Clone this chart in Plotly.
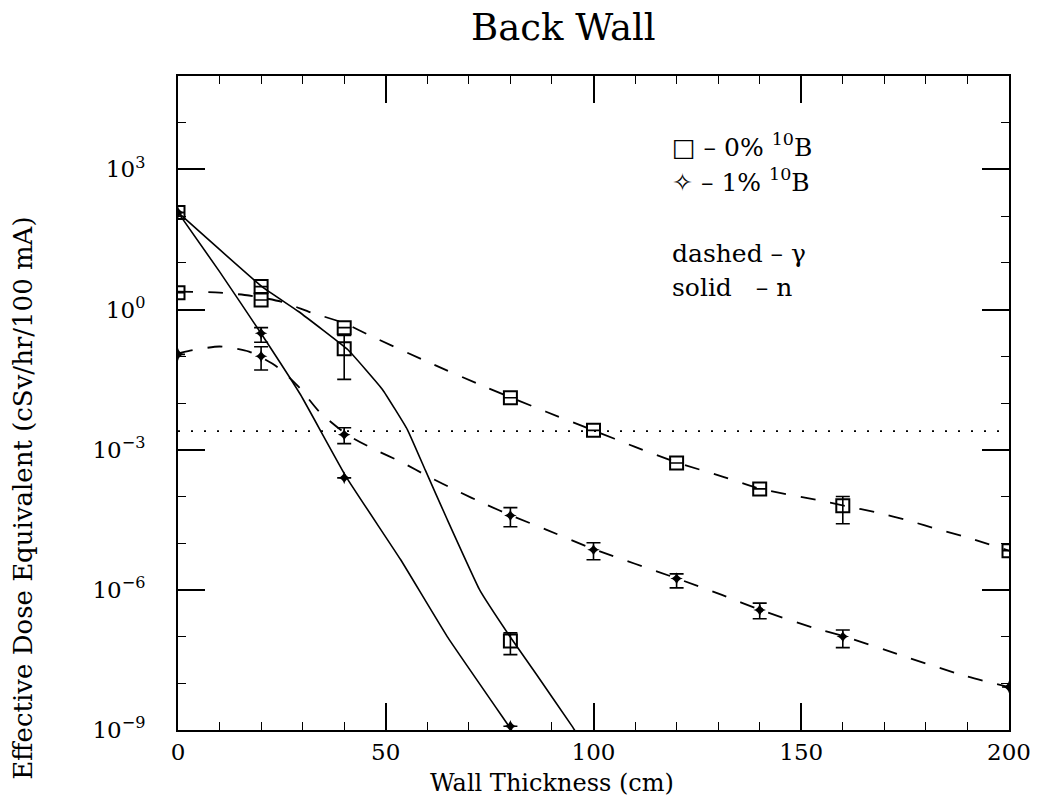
import plotly.graph_objects as go

# ---------------- data ----------------
# measured points: 0% 10B (squares)
sq_n_x = [0, 20, 40, 80]
sq_n_y = [120, 3.1, 0.145, 8.0e-8]
sq_n_up = [120, 3.1, 0.28, 1.2e-7]
sq_n_lo = [120, 3.1, 0.032, 4.1e-8]

sq_g_x = [0, 20, 40, 80, 100, 120, 140, 160, 200]
sq_g_y = [2.3, 1.6, 0.41, 0.013, 2.6e-3, 5.2e-4, 1.45e-4, 6.3e-5, 6.9e-6]
sq_g_up = [2.3, 1.6, 0.41, 0.013, 2.6e-3, 5.2e-4, 1.45e-4, 1.0e-4, 6.9e-6]
sq_g_lo = [2.3, 1.6, 0.41, 0.013, 2.6e-3, 5.2e-4, 1.45e-4, 2.6e-5, 6.9e-6]

# measured points: 1% 10B (stars)
st_n_x = [0, 20, 40, 80]
st_n_y = [120, 0.31, 2.5e-4, 1.2e-9]
st_n_up = [120, 0.41, 2.5e-4, 1.2e-9]
st_n_lo = [120, 0.20, 2.5e-4, 1.2e-9]

st_g_x = [0, 20, 40, 80, 100, 120, 140, 160, 200]
st_g_y = [0.11, 0.10, 2.1e-3, 3.9e-5, 7.2e-6, 1.74e-6, 3.7e-7, 1.0e-7, 8.3e-9]
st_g_up = [0.11, 0.16, 2.95e-3, 5.75e-5, 1.02e-5, 2.2e-6, 5.2e-7, 1.38e-7, 8.3e-9]
st_g_lo = [0.11, 0.051, 1.35e-3, 2.24e-5, 4.4e-6, 1.1e-6, 2.4e-7, 5.8e-8, 8.3e-9]

# fitted curves
c_sq_n_x = [0, 20.2, 29.0, 40.9, 49.2, 55.2, 59.5, 64.8, 72.6, 79.8, 86.2, 95.0, 96.5]
c_sq_n_y = [120, 3.1, 0.91, 0.138, 0.0195, 2.7e-3, 3.7e-4, 3.2e-5, 1.0e-6, 1.03e-7, 1.58e-8,
            1.15e-9, 7e-10]

c_st_n_x = [0, 10, 20.2, 29.5, 40.5, 53.6, 64.8, 79.8, 81.0]
c_st_n_y = [120, 6.5, 0.29, 0.015, 2.6e-4, 4.4e-6, 1.0e-7, 1.15e-9, 8e-10]

c_sq_g_x = [0, 10, 17.1, 24.8, 32.1, 39.8, 46.9, 60.5, 74.3, 88.6, 100.2, 110, 120.2,
            131.4, 140.2, 153.6, 160.5, 168.3, 176, 183.1, 190.2, 200]
c_sq_g_y = [2.43, 2.31, 2.0, 1.48, 0.86, 0.52, 0.26, 0.073, 0.0214, 6.5e-3, 2.55e-3, 1.15e-3,
            5.3e-4, 2.6e-4, 1.45e-4, 8.5e-5, 6.3e-5, 4.5e-5, 3.0e-5, 1.95e-5, 1.3e-5, 6.9e-6]

c_st_g_x = [0, 2.9, 10, 17.1, 23.8, 29, 34, 40.7, 46.9, 54, 60.5, 67.1, 74.3, 80.2, 88.6,
            99.8, 120.2, 130.9, 140.2, 152.9, 160.5, 174.3, 189.3, 200]
c_st_g_y = [0.115, 0.132, 0.162, 0.126, 0.06, 0.0224, 6.5e-3, 2.1e-3, 1.05e-3, 5.3e-4, 2.6e-4,
            1.32e-4, 6.6e-5, 3.9e-5, 1.95e-5, 7.6e-6, 1.74e-6, 7.8e-7, 3.7e-7, 1.55e-7, 1.0e-7,
            3.9e-8, 1.45e-8, 8.3e-9]

limit_x = [0, 200]
limit_y = [2.5e-3, 2.5e-3]

x_ticks = [0, 50, 100, 150, 200]
y_ticks = [1e-9, 1e-6, 1e-3, 1, 1e3]
y_ticktext = ["10<sup>−9</sup>", "10<sup>−6</sup>", "10<sup>−3</sup>", "10<sup>0</sup>", "10<sup>3</sup>"]
y_minor = [10.0 ** k for k in range(-9, 6)]

FONT = "DejaVu Serif"
BLACK = "black"

fig = go.Figure()

# curves
fig.add_trace(go.Scatter(x=c_sq_n_x, y=c_sq_n_y, mode="lines",
                         line=dict(color=BLACK, width=1.6, shape="spline", smoothing=0.3)))
fig.add_trace(go.Scatter(x=c_st_n_x, y=c_st_n_y, mode="lines",
                         line=dict(color=BLACK, width=1.6, shape="spline", smoothing=0.3)))
fig.add_trace(go.Scatter(x=c_sq_g_x, y=c_sq_g_y, mode="lines",
                         line=dict(color=BLACK, width=1.8, dash="15px,15px", shape="spline", smoothing=0.6)))
fig.add_trace(go.Scatter(x=c_st_g_x, y=c_st_g_y, mode="lines",
                         line=dict(color=BLACK, width=1.8, dash="15px,15px", shape="spline", smoothing=0.6)))
fig.add_trace(go.Scatter(x=limit_x, y=limit_y, mode="lines",
                         line=dict(color=BLACK, width=1.6, dash="2px,11px")))


def err(y, up, lo):
    return dict(type="data", symmetric=False,
                array=[u - v for u, v in zip(up, y)],
                arrayminus=[v - l for v, l in zip(y, lo)],
                color=BLACK, thickness=1.6, width=7)


fig.add_trace(go.Scatter(x=sq_n_x, y=sq_n_y, mode="markers",
                         marker=dict(symbol="square-open", size=13, color=BLACK, line=dict(width=2)),
                         error_y=err(sq_n_y, sq_n_up, sq_n_lo)))
fig.add_trace(go.Scatter(x=sq_g_x, y=sq_g_y, mode="markers",
                         marker=dict(symbol="square-open", size=13, color=BLACK, line=dict(width=2)),
                         error_y=err(sq_g_y, sq_g_up, sq_g_lo)))
fig.add_trace(go.Scatter(x=st_n_x, y=st_n_y, mode="markers",
                         marker=dict(symbol="star-diamond", size=9, color=BLACK),
                         error_y=err(st_n_y, st_n_up, st_n_lo)))
fig.add_trace(go.Scatter(x=st_g_x, y=st_g_y, mode="markers",
                         marker=dict(symbol="star-diamond", size=9, color=BLACK),
                         error_y=err(st_g_y, st_g_up, st_g_lo)))

L, R, T, B = 178, 1019, 76, 730
W, H = 1043, 802


def px(xp):
    return (xp - L) / (R - L)


def py(yp):
    return (B - yp) / (B - T)


axis_common = dict(showline=True, linecolor=BLACK, linewidth=2, mirror="allticks",
                   ticks="inside", ticklen=27, tickwidth=1.5, tickcolor=BLACK,
                   showgrid=False, zeroline=False,
                   tickfont=dict(family=FONT, size=23, color=BLACK))

fig.update_xaxes(range=[0, 200], tickmode="array", tickvals=x_ticks,
                 ticklabelstandoff=0,
                 minor=dict(dtick=10, tick0=0, ticks="inside", ticklen=8, tickwidth=1.2,
                            tickcolor=BLACK, showgrid=False),
                 **axis_common)
fig.update_yaxes(type="log", range=[-9, 5], tickmode="array", tickvals=y_ticks,
                 ticktext=y_ticktext, ticklabelstandoff=26,
                 minor=dict(tickmode="array", tickvals=y_minor, ticks="inside", ticklen=8,
                            tickwidth=1.2, tickcolor=BLACK, showgrid=False),
                 **axis_common)

ann = []
ann.append(dict(text="Back Wall", x=px(568), y=py(27), xref="paper", yref="paper",
                xanchor="center", yanchor="middle",
                showarrow=False, font=dict(family=FONT, size=37, color=BLACK)))
ann.append(dict(text="Wall Thickness (cm)", x=px(556), y=py(783), xref="paper", yref="paper",
                xanchor="center", yanchor="middle",
                showarrow=False, font=dict(family=FONT, size=24, color=BLACK)))
ann.append(dict(text="Effective Dose Equivalent (cSv/hr/100 mA)", x=px(21), y=py(498),
                xref="paper", yref="paper", textangle=-90, showarrow=False,
                xanchor="center", yanchor="middle",
                font=dict(family=FONT, size=26, color=BLACK)))
legend_lines = [("□ – 0% <sup>10</sup>B", 145), ("✧ – 1% <sup>10</sup>B", 180),
                ("dashed – γ", 253), ("solid&nbsp;&nbsp;&nbsp;– n", 287)]
for txt, yy in legend_lines:
    ann.append(dict(text=txt, x=px(676), y=py(yy), xref="paper", yref="paper",
                    xanchor="left", yanchor="middle", showarrow=False,
                    font=dict(family=FONT, size=25, color=BLACK)))

fig.update_layout(width=W, height=H, showlegend=False,
                  margin=dict(l=L, r=W - R, t=T, b=H - B),
                  paper_bgcolor="white", plot_bgcolor="white",
                  annotations=ann)

fig.write_html("out.html")
